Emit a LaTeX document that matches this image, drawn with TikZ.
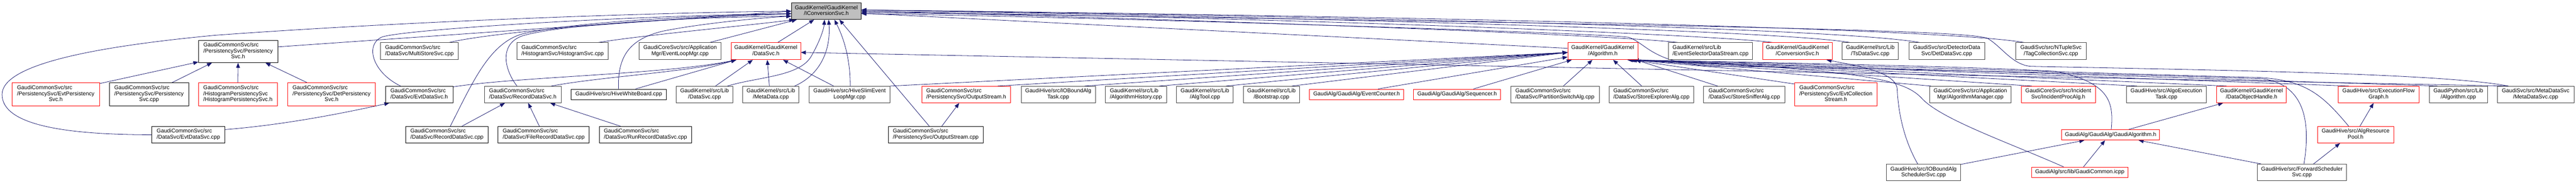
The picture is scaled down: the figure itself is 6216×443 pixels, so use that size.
\documentclass[tikz,border=0pt]{standalone}
\usepackage{fontspec}
\setmainfont{Liberation Sans}
\usetikzlibrary{arrows.meta,calc}
\definecolor{edgeblue}{HTML}{191970}
\definecolor{nodegray}{HTML}{404040}
\definecolor{rootfill}{HTML}{BFBFBF}
\definecolor{nodered}{HTML}{FF0000}
\renewcommand{\arraystretch}{0.9}
\newcommand\twol[2]{\begin{tabular}{@{}l@{}}#1\\\multicolumn{1}{@{}c@{}}{#2}\end{tabular}}
\newcommand\threel[3]{\begin{tabular}{@{}l@{}}#1\\#2\\\multicolumn{1}{@{}c@{}}{#3}\end{tabular}}
\pgfdeclarelayer{bg}
\pgfsetlayers{bg,main}
\newcommand\gnd[7]{%
  \pgfmathsetmacro\ndw{(#4-#2)*0.75}%
  \pgfmathsetmacro\ndh{(#5-#3)*0.75}%
  \node[gnode,#6,minimum width=\ndw pt,minimum height=\ndh pt] (#1) at ({(#2+#4)/2},{(#3+#5)/2}) {#7};}
\begin{document}
\begin{tikzpicture}[x=0.75pt,y=-0.75pt,
  gnode/.style={draw,rectangle,fill=white,inner sep=0pt,line width=0.75pt,font=\fontsize{10}{12}\selectfont},
  blk/.style={draw=black},
  gry/.style={draw=nodegray},
  rd/.style={draw=nodered},
  root/.style={draw=black,fill=rootfill},
  conn/.style={draw=edgeblue,line width=0.75pt,-{Triangle[length=9pt,width=7pt]}}]
\useasboundingbox (0,0) rectangle (6216,443);
% row 0
\gnd{ics}{1910}{7}{2078}{47}{root}{\twol{GaudiKernel/GaudiKernel}{/IConversionSvc.h}}
% row 1
\gnd{psh}{479}{97}{670}{151}{blk}{\threel{GaudiCommonSvc/src}{/PersistencySvc/Persistency}{Svc.h}}
\gnd{msc}{918}{103}{1106}{144}{gry}{\twol{GaudiCommonSvc/src}{/DataSvc/MultiStoreSvc.cpp}}
\gnd{hsc}{1247}{103}{1468}{144}{gry}{\twol{GaudiCommonSvc/src}{/HistogramSvc/HistogramSvc.cpp}}
\gnd{elm}{1542}{103}{1740}{144}{gry}{\twol{GaudiCoreSvc/src/Application}{Mgr/EventLoopMgr.cpp}}
\gnd{dsh}{1764}{103}{1932}{144}{rd}{\twol{GaudiKernel/GaudiKernel}{/DataSvc.h}}
\gnd{alh}{3783}{103}{3952}{144}{rd}{\twol{GaudiKernel/GaudiKernel}{/Algorithm.h}}
\gnd{esd}{4026}{103}{4229}{144}{gry}{\twol{GaudiKernel/src/Lib}{/EventSelectorDataStream.cpp}}
\gnd{csh}{4253}{103}{4421}{144}{rd}{\twol{GaudiKernel/GaudiKernel}{/ConversionSvc.h}}
\gnd{tsd}{4445}{103}{4581}{144}{gry}{\twol{GaudiKernel/src/Lib}{/TsDataSvc.cpp}}
\gnd{ddc}{4606}{103}{4789}{144}{gry}{\twol{GaudiSvc/src/DetectorData}{Svc/DetDataSvc.cpp}}
\gnd{tcs}{4864}{103}{5034}{144}{gry}{\twol{GaudiSvc/src/NTupleSvc}{/TagCollectionSvc.cpp}}
% row 2
\gnd{eph}{29}{200}{240}{255}{rd}{\threel{GaudiCommonSvc/src}{/PersistencySvc/EvtPersistency}{Svc.h}}
\gnd{psc}{264}{200}{455}{255}{blk}{\threel{GaudiCommonSvc/src}{/PersistencySvc/Persistency}{Svc.cpp}}
\gnd{hph}{479}{200}{669}{255}{rd}{\threel{GaudiCommonSvc/src}{/HistogramPersistencySvc}{/HistogramPersistencySvc.h}}
\gnd{dph}{694}{200}{906}{255}{rd}{\threel{GaudiCommonSvc/src}{/PersistencySvc/DetPersistency}{Svc.h}}
\gnd{edh}{930}{208}{1093}{248}{blk}{\twol{GaudiCommonSvc/src}{/DataSvc/EvtDataSvc.h}}
\gnd{rdh}{1169}{208}{1354}{248}{gry}{\twol{GaudiCommonSvc/src}{/DataSvc/RecordDataSvc.h}}
\gnd{hwb}{1378}{215}{1608}{240}{blk}{GaudiHive/src/HiveWhiteBoard.cpp}
\gnd{dsc}{1632}{208}{1768}{248}{gry}{\twol{GaudiKernel/src/Lib}{/DataSvc.cpp}}
\gnd{mdc}{1792}{208}{1928}{248}{gry}{\twol{GaudiKernel/src/Lib}{/MetaData.cpp}}
\gnd{hse}{1952}{208}{2148}{248}{gry}{\twol{GaudiHive/src/HiveSlimEvent}{LoopMgr.cpp}}
\gnd{osh}{2224}{208}{2439}{248}{rd}{\twol{GaudiCommonSvc/src}{/PersistencySvc/OutputStream.h}}
\gnd{iot}{2464}{208}{2643}{248}{gry}{\twol{GaudiHive/src/IOBoundAlg}{Task.cpp}}
\gnd{ahc}{2667}{208}{2815}{248}{gry}{\twol{GaudiKernel/src/Lib}{/AlgorithmHistory.cpp}}
\gnd{atc}{2839}{208}{2976}{248}{gry}{\twol{GaudiKernel/src/Lib}{/AlgTool.cpp}}
\gnd{bsc}{3000}{208}{3136}{248}{gry}{\twol{GaudiKernel/src/Lib}{/Bootstrap.cpp}}
\gnd{ech}{3160}{215}{3387}{240}{rd}{GaudiAlg/GaudiAlg/EventCounter.h}
\gnd{sqh}{3411}{215}{3621}{240}{rd}{GaudiAlg/GaudiAlg/Sequencer.h}
\gnd{psa}{3645}{208}{3859}{248}{gry}{\twol{GaudiCommonSvc/src}{/DataSvc/PartitionSwitchAlg.cpp}}
\gnd{sea}{3883}{208}{4087}{248}{gry}{\twol{GaudiCommonSvc/src}{/DataSvc/StoreExplorerAlg.cpp}}
\gnd{ssa}{4111}{208}{4307}{248}{gry}{\twol{GaudiCommonSvc/src}{/DataSvc/StoreSnifferAlg.cpp}}
\gnd{ecs}{4330}{200}{4530}{255}{rd}{\threel{GaudiCommonSvc/src}{/PersistencySvc/EvtCollection}{Stream.h}}
\gnd{amc}{4656}{208}{4853}{248}{gry}{\twol{GaudiCoreSvc/src/Application}{Mgr/AlgorithmManager.cpp}}
\gnd{ipa}{4877}{208}{5056}{248}{rd}{\twol{GaudiCoreSvc/src/Incident}{Svc/IncidentProcAlg.h}}
\gnd{aet}{5131}{208}{5324}{248}{gry}{\twol{GaudiHive/src/AlgoExecution}{Task.cpp}}
\gnd{doh}{5349}{208}{5517}{248}{rd}{\twol{GaudiKernel/GaudiKernel}{/DataObjectHandle.h}}
\gnd{efg}{5642}{208}{5837}{248}{rd}{\twol{GaudiHive/src/ExecutionFlow}{Graph.h}}
\gnd{gpa}{5862}{208}{6002}{248}{gry}{\twol{GaudiPython/src/Lib}{/Algorithm.cpp}}
\gnd{mds}{6026}{208}{6211}{248}{gry}{\twol{GaudiSvc/src/MetaDataSvc}{/MetaDataSvc.cpp}}
% row 3
\gnd{edc}{366}{305}{543}{345}{blk}{\twol{GaudiCommonSvc/src}{/DataSvc/EvtDataSvc.cpp}}
\gnd{rdc}{979}{305}{1178}{345}{blk}{\twol{GaudiCommonSvc/src}{/DataSvc/RecordDataSvc.cpp}}
\gnd{frd}{1202}{305}{1422}{345}{blk}{\twol{GaudiCommonSvc/src}{/DataSvc/FileRecordDataSvc.cpp}}
\gnd{rrd}{1446}{305}{1669}{345}{blk}{\twol{GaudiCommonSvc/src}{/DataSvc/RunRecordDataSvc.cpp}}
\gnd{osc}{2144}{305}{2372}{345}{blk}{\twol{GaudiCommonSvc/src}{/PersistencySvc/OutputStream.cpp}}
\gnd{gah}{4975}{313}{5211}{338}{rd}{GaudiAlg/GaudiAlg/GaudiAlgorithm.h}
\gnd{arp}{5592}{305}{5776}{345}{rd}{\twol{GaudiHive/src/AlgResource}{Pool.h}}
% row 4
\gnd{ias}{4552}{396}{4731}{436}{gry}{\twol{GaudiHive/src/IOBoundAlg}{SchedulerSvc.cpp}}
\gnd{gci}{4902}{403}{5135}{428}{rd}{GaudiAlg/src/lib/GaudiCommon.icpp}
\gnd{fss}{5447}{396}{5662}{436}{gry}{\twol{GaudiHive/src/ForwardScheduler}{Svc.cpp}}

\begin{pgfonlayer}{bg}
\fill[white] (0,0) rectangle (6216,443);
% into IConversionSvc.h from the left and below
\draw[conn] ($(psh.east)+(0,-11)$) -- (ics.west);
\draw[conn] (edc.west) .. controls (150,325) and (5,300) .. (5,228) .. controls (5,160) and (200,115) .. (520,85) .. controls (1000,50) and (1600,30) .. (ics.west);
\draw[conn] ($(edh.north west)+(37,0)$) .. controls (900,175) and (880,110) .. (920,90) .. controls (960,72) and (1500,38) .. ($(ics.west)+(0,6)$);
\draw[conn] ($(msc.north east)+(-23,0)$) .. controls (1200,75) and (1600,45) .. ($(ics.west)+(0,6)$);
\draw[conn] ($(hsc.north east)+(-25,0)$) .. controls (1550,85) and (1800,62) .. ($(ics.south west)+(7,0)$);
\draw[conn] ($(elm.north east)+(-28,0)$) -- ($(ics.south west)+(13,0)$);
\draw[conn] ($(rdc.north west)+(108,0)$) .. controls (1140,200) and (1180,105) .. (1260,82) .. controls (1400,50) and (1700,38) .. ($(ics.west)+(0,6)$);
\draw[conn] ($(rdh.north west)+(79,0)$) .. controls (1215,165) and (1205,105) .. (1262,86) .. controls (1360,58) and (1650,42) .. ($(ics.west)+(0,12)$);
\draw[conn] ($(hwb.north west)+(115,0)$) .. controls (1490,140) and (1515,95) .. (1600,75) .. controls (1700,55) and (1850,42) .. ($(ics.west)+(0,12)$);
\draw[conn] ($(dsh.north west)+(113,0)$) -- ($(ics.south west)+(55,0)$);
\draw[conn] ($(dsc.north east)+(-13,0)$) .. controls (1830,185) and (1930,185) .. (1958,135) .. controls (1978,100) and (1988,70) .. ($(ics.south west)+(80,0)$);
\draw[conn] ($(mdc.north east)+(-11,0)$) .. controls (1980,180) and (2005,120) .. ($(ics.south west)+(90,0)$);
\draw[conn] ($(hse.north west)+(100,0)$) .. controls (2052,140) and (2035,90) .. ($(ics.south west)+(104,0)$);
\draw[conn] ($(osc.north west)+(99,0)$) -- ($(ics.south west)+(116,0)$);
% into IConversionSvc.h from the right
\draw[conn] ($(alh.west)+(0,-7)$) -- ($(ics.east)+(0,5)$);
\draw[conn] ($(esd.north west)+(24,0)$) .. controls (3900,85) and (3000,50) .. (ics.east);
\draw[conn] ($(csh.north west)+(25,0)$) .. controls (4150,85) and (3200,45) .. (ics.east);
\draw[conn] ($(tsd.north west)+(20,0)$) .. controls (4300,75) and (3300,45) .. ($(ics.east)+(0,-3)$);
\draw[conn] ($(ddc.north west)+(27,0)$) .. controls (4450,70) and (3400,42) .. ($(ics.east)+(0,-3)$);
\draw[conn] ($(tcs.north west)+(21,0)$) .. controls (4700,70) and (3500,40) .. ($(ics.east)+(0,-3)$);
\draw[conn] ($(fss.north west)+(113,0)$) .. controls (5575,300) and (5565,205) .. (5460,190) .. controls (5000,175) and (4400,163) .. (4160,160) .. controls (3990,160) and (3975,105) .. (3930,90) .. controls (3880,80) and (2600,40) .. ($(ics.east)+(0,6)$);
\draw[conn] ($(mds.north west)+(27,0)$) .. controls (5900,178) and (5400,170) .. (4900,160) .. controls (4855,156) and (4830,112) .. (4795,92) .. controls (4740,75) and (4300,62) .. ($(ics.east)+(0,3)$);
% into DataSvc.h
\draw[conn] ($(dsc.north west)+(95,0)$) -- ($(dsh.south west)+(53,0)$);
\draw[conn] ($(mdc.north west)+(65,0)$) -- ($(dsh.south west)+(88,0)$);
\draw[conn] ($(hse.north west)+(60,0)$) -- ($(dsh.south west)+(126,0)$);
\draw[conn] ($(edh.north east)+(0,2)$) .. controls (1250,185) and (1600,180) .. ($(dsh.south west)+(13,0)$);
\draw[conn] ($(rdh.north east)+(-24,0)$) .. controls (1450,185) and (1650,175) .. ($(dsh.south west)+(13,0)$);
\draw[conn] ($(hwb.north east)+(-75,0)$) -- ($(dsh.south west)+(13,0)$);
\draw[conn] ($(mds.north west)+(27,0)$) -- ($(dsh.east)+(0,3)$);
% into PersistencySvc.h
\draw[conn] ($(eph.north east)+(0,2)$) -- ($(psh.south west)+(0,-2)$);
\draw[conn] ($(psc.north west)+(151,0)$) -- ($(psh.south west)+(33,0)$);
\draw[conn] (hph.north) -- (psh.south);
\draw[conn] ($(dph.north west)+(48,0)$) -- ($(psh.south east)+(-30,0)$);
% into EvtDataSvc.h, RecordDataSvc.h, OutputStream.h
\draw[conn] ($(edc.north east)+(0,8)$) .. controls (700,300) and (850,268) .. ($(edh.south west)+(10,0)$);
\draw[conn] ($(rdc.north west)+(136,0)$) -- ($(rdh.south west)+(50,0)$);
\draw[conn] ($(frd.north west)+(100,0)$) -- ($(rdh.south west)+(106,0)$);
\draw[conn] ($(rrd.north west)+(52,0)$) -- ($(rdh.south east)+(-27,0)$);
\draw[conn] ($(osc.north west)+(129,0)$) -- ($(osh.south west)+(91,0)$);
% into Algorithm.h from the left
\draw[conn] (hse.north east) -- ($(alh.west)+(0,3)$);
\draw[conn] ($(osh.north east)+(-32,0)$) -- ($(alh.west)+(0,3)$);
\draw[conn] ($(iot.north east)+(-26,0)$) -- ($(alh.west)+(0,3)$);
\draw[conn] ($(ahc.north east)+(-18,0)$) -- ($(alh.west)+(0,3)$);
\draw[conn] ($(atc.north east)+(-18,0)$) -- ($(alh.west)+(0,3)$);
\draw[conn] ($(bsc.north east)+(-19,0)$) -- ($(alh.west)+(0,3)$);
\draw[conn] ($(ech.north east)+(-62,0)$) -- ($(alh.west)+(0,14)$);
\draw[conn] ($(sqh.north east)+(-66,0)$) -- ($(alh.south west)+(10,0)$);
\draw[conn] ($(psa.north west)+(128,0)$) -- ($(alh.south west)+(60,0)$);
\draw[conn] ($(sea.north west)+(79,0)$) -- ($(alh.south west)+(110,0)$);
% into Algorithm.h from the right
\draw[conn] ($(ssa.north west)+(34,0)$) -- ($(alh.south east)+(-5,0)$);
\draw[conn] ($(ecs.north west)+(0,3)$) -- ($(alh.south east)+(-15,0)$);
\draw[conn] ($(amc.north west)+(4,0)$) -- ($(alh.south east)+(-15,0)$);
\draw[conn] ($(ipa.north west)+(26,0)$) -- ($(alh.south east)+(-20,0)$);
\draw[conn] ($(aet.north west)+(26,0)$) -- ($(alh.south east)+(-20,0)$);
\draw[conn] ($(doh.north west)+(24,0)$) -- ($(alh.south east)+(-25,0)$);
\draw[conn] ($(efg.north west)+(26,0)$) -- ($(alh.south east)+(-25,0)$);
\draw[conn] ($(gpa.north west)+(20,0)$) -- ($(alh.south east)+(-25,0)$);
\draw[conn] ($(arp.north west)+(76,0)$) .. controls (5605,230) and (5565,193) .. (5450,187) .. controls (5000,175) and (4300,152) .. ($(alh.south east)+(-22,0)$);
\draw[conn] ($(gah.north west)+(120,0)$) .. controls (5100,250) and (5095,200) .. (4960,172) .. controls (4700,158) and (4200,150) .. ($(alh.south east)+(-15,0)$);
\draw[conn] ($(gci.north west)+(78,0)$) .. controls (4850,345) and (4690,290) .. (4640,240) .. controls (4600,195) and (4520,168) .. ($(alh.south east)+(-10,0)$);
% lower part
\draw[conn] ($(ias.north west)+(76,0)$) .. controls (4590,330) and (4580,260) .. (4578,215) .. controls (4575,175) and (4490,160) .. ($(csh.south east)+(-14,0)$);
\draw[conn] ($(ias.north east)+(0,1)$) -- ($(gah.south west)+(55,0)$);
\draw[conn] ($(gci.north west)+(126,0)$) -- ($(gah.south west)+(105,0)$);
\draw[conn] ($(fss.north west)+(10,0)$) -- ($(gah.south east)+(-51,0)$);
\draw[conn] ($(fss.north east)+(-80,0)$) -- ($(arp.south west)+(55,0)$);
\draw[conn] ($(arp.north west)+(103,0)$) -- ($(efg.south west)+(86,0)$);
\draw[conn] ($(gah.north east)+(-76,0)$) -- ($(doh.south west)+(16,0)$);
\end{pgfonlayer}
\end{tikzpicture}
\end{document}
